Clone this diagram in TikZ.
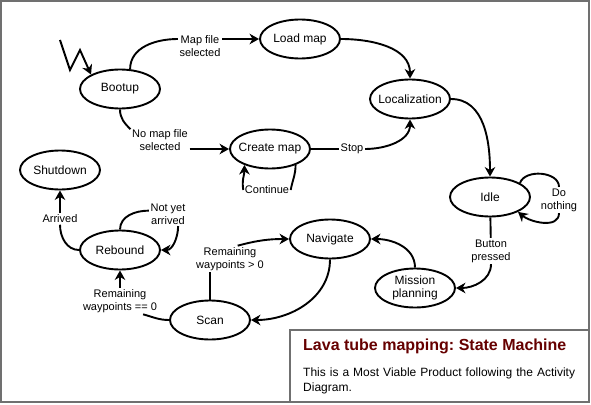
\documentclass[tikz,border=0pt]{standalone}
\usepackage{fontspec}
\setmainfont{Liberation Sans}
\usetikzlibrary{shapes.geometric, arrows.meta}
\frenchspacing
\definecolor{titlered}{HTML}{660000}
\definecolor{framegray}{HTML}{707070}
\tikzstyle{state} = [ellipse, minimum width=80pt, minimum height=39pt, inner xsep=-6pt, inner ysep=0pt, text centered, align=center, draw=black, line width=1.9pt, font=\fontsize{12}{13.5}\selectfont]
\tikzstyle{lbl} = [inner sep=1.5pt, align=center, font=\fontsize{11}{13}\selectfont]
\tikzstyle{line} = [line width=1.9pt]
\tikzstyle{arrow} = [line width=1.9pt, -{Stealth[length=9.5pt, width=10.5pt, inset=3pt]}]

\begin{document}
\begin{tikzpicture}[x=1pt, y=1pt]
\useasboundingbox (0,0) rectangle (591,-404);

\draw [framegray, line width=2pt] (1,-1) rectangle (589,-402);
\draw [framegray, line width=1.5pt] (290,-330) rectangle (589,-402);

\node (bootup) [state] at (120,-89) {Bootup};
\node (loadmap) [state] at (300,-39) {Load map};
\node (localization) [state] at (410,-99) {Localization};
\node (createmap) [state] at (270,-149) {Create map};
\node (shutdown) [state] at (60,-170) {Shutdown};
\node (idle) [state] at (490,-197) {Idle};
\node (rebound) [state] at (120,-250) {Rebound};
\node (navigate) [state] at (330,-239) {Navigate};
\node (mission) [state] at (415,-288) {Mission\\planning};
\node (scan) [state] at (210,-320) {Scan};

\node (lmapfile) [lbl] at (200,-46) {Map file\\selected};
\node (lnomap) [lbl] at (160,-140) {No map file\\selected};
\node (lcontinue) [lbl] at (267,-190) {Continue};
\node (lstop) [lbl] at (352,-149) {Stop};
\node (ldonothing) [lbl] at (559,-200) {Do\\nothing};
\node (lbutton) [lbl] at (491,-251) {Button\\pressed};
\node (lremgt) [lbl] at (230,-259) {Remaining\\waypoints > 0};
\node (lremeq) [lbl] at (120,-301) {Remaining\\waypoints == 0};
\node (lnotyet) [lbl] at (168,-214) {Not yet\\arrived};
\node (larrived) [lbl] at (60,-219) {Arrived};

\coordinate (start) at (60,-40);
\draw [arrow] (start) -- ++(10,-30) -- ++(10,20) -- (bootup.north west);

\draw [line] (bootup.63) to[out=90,in=180] (lmapfile.west |- loadmap);
\draw [arrow] (lmapfile.east |- loadmap) -- (loadmap);
\draw [line] (bootup.south) to[out=-90,in=135] (lnomap.160);
\draw [arrow] (lnomap.east |- createmap) -- (createmap);

\draw [line] (createmap.-32) to[out=-90,in=80] (lcontinue.east);
\draw [arrow] (lcontinue.west) to[out=100,in=-90] (createmap.-148);
\draw [line] (createmap) -- (lstop);
\draw [arrow] (lstop) to[out=0,in=-90] (localization);
\draw [arrow] (loadmap) to[out=0,in=90] (localization);
\draw [arrow] (localization) to[out=0,in=90] (idle);

\draw [line] (idle.25) to[out=70,in=90] (ldonothing.north);
\draw [arrow] (ldonothing.south) to[out=-90,in=-40] (idle.-28);
\draw [line] (idle) -- (lbutton);
\draw [arrow] (lbutton) to[out=-90,in=0] (mission);
\draw [arrow] (mission) to[out=90,in=0] (navigate);
\draw [arrow] (navigate) to[out=-90,in=0] (scan);

\draw [line] (scan) -- (lremgt.south -| scan);
\draw [arrow] (lremgt.60) to[out=15,in=180] (navigate);
\draw [line] (scan) to[out=180,in=-15] (lremeq.-30);
\draw [arrow] (lremeq) -- (rebound);
\draw [line] (rebound.north) to[out=90,in=180] (lnotyet.170);
\draw [arrow] (lnotyet.-50) to[out=-90,in=0] (rebound);
\draw [line] (rebound) to[out=180,in=-90] (larrived);
\draw [arrow] (larrived) -- (shutdown);

\node (title) [anchor=base west, inner sep=0pt, text=titlered, font=\bfseries\fontsize{16}{19}\selectfont] at (303,-350) {Lava tube mapping: State Machine};
\node (desc) [anchor=north west, inner sep=0pt, text width=275pt, font=\fontsize{12}{15}\selectfont] at (303,-368) {This is a Most Viable Product following the Activity Diagram.};
\end{tikzpicture}
\end{document}
